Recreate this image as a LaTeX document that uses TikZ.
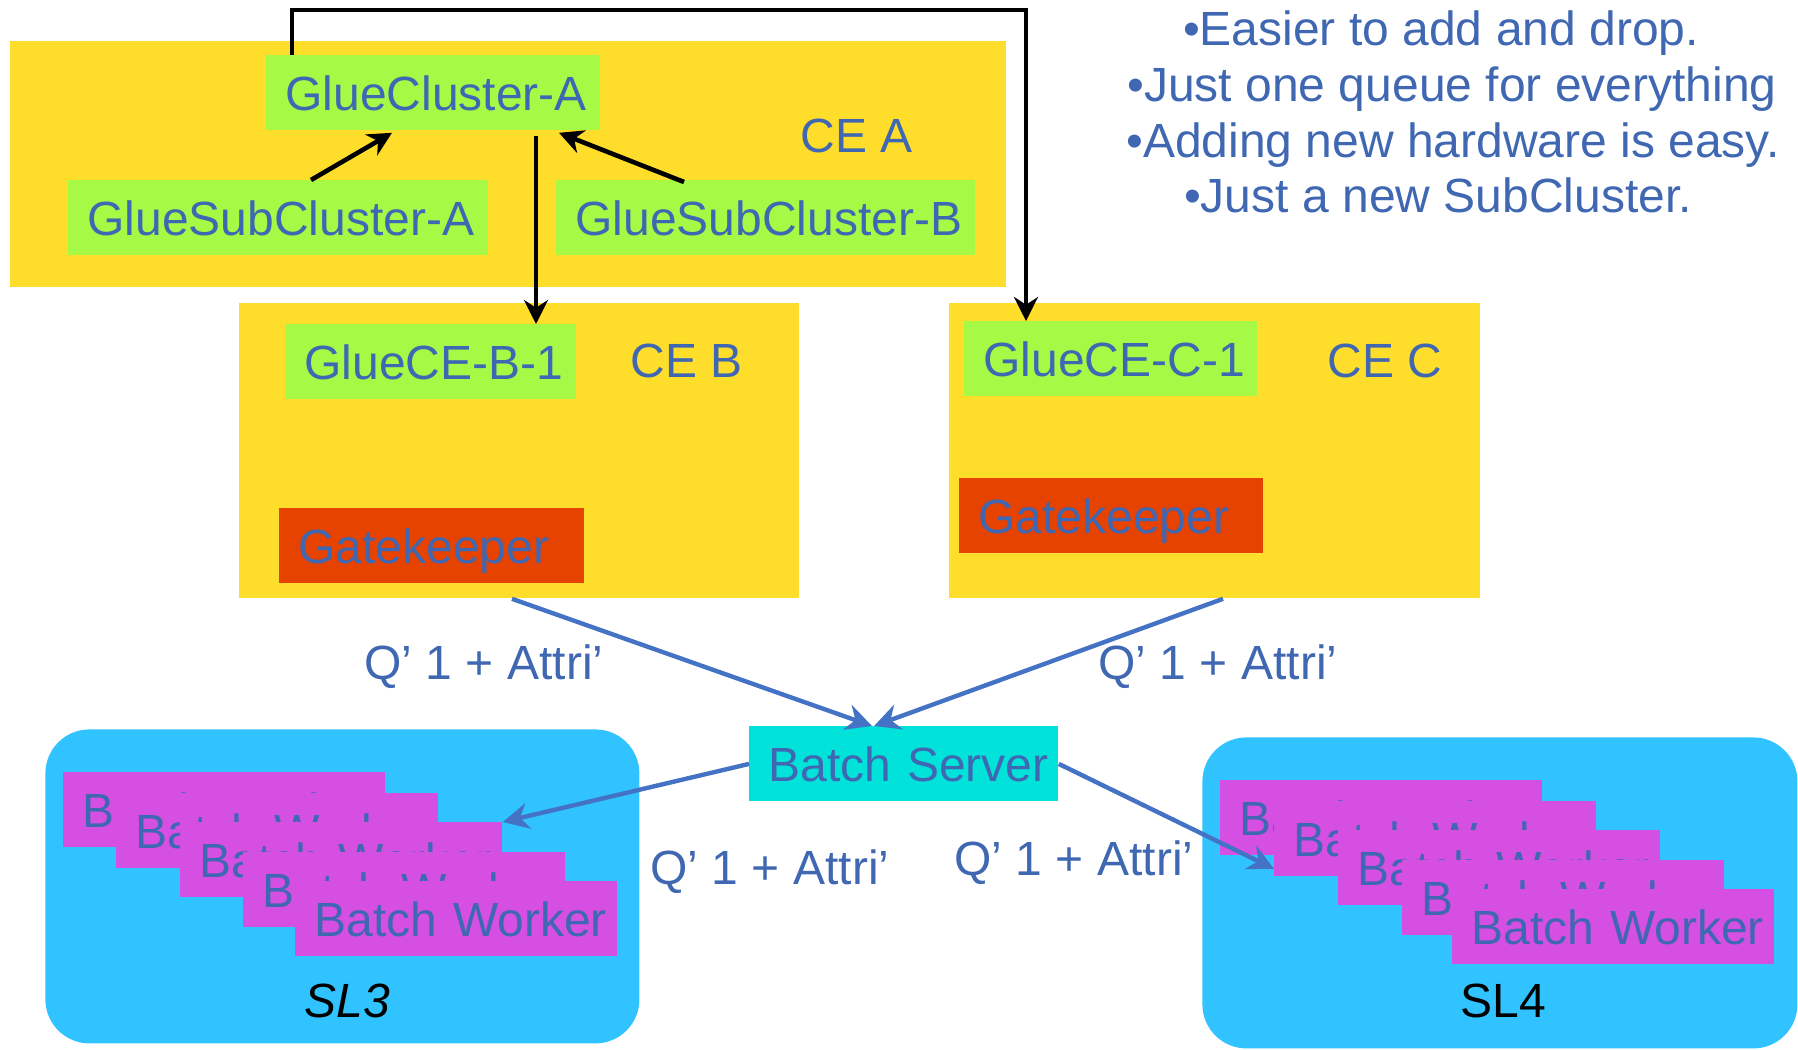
\documentclass[tikz,border=0pt]{standalone}
\usepackage{fontspec}
\setmainfont{Liberation Sans}
\usetikzlibrary{arrows.meta,calc}

\definecolor{ceyellow}{RGB}{255,221,43}
\definecolor{gluegreen}{RGB}{166,250,70}
\definecolor{gatered}{RGB}{230,67,0}
\definecolor{servercyan}{RGB}{0,226,218}
\definecolor{slblue}{RGB}{48,195,255}
\definecolor{workermag}{RGB}{214,79,227}
\definecolor{txtblue}{RGB}{63,103,178}
\definecolor{flowblue}{RGB}{68,114,196}

\newcommand{\diagfont}{\fontsize{24}{28.5}\selectfont}

\begin{document}
\begin{tikzpicture}[x=0.5pt,y=-0.5pt,
  txt/.style={font=\diagfont, text=txtblue, inner sep=0pt, text height=17.2pt, text depth=0pt},
  panel/.style={fill=ceyellow, anchor=north west, inner sep=0pt},
  pool/.style={fill=slblue, anchor=north west, inner sep=0pt, rounded corners=22pt},
  tag/.style={txt, fill=#1, anchor=north west, inner xsep=9.5pt, inner ysep=0pt,
              minimum height=37.5pt, align=left},
  worker/.style={tag=workermag, text width=142pt},
  karrow/.style={draw=black, line width=2.3pt, -{Stealth[length=12pt,width=12pt]}},
  barrow/.style={draw=flowblue, line width=2.2pt, -{Stealth[length=13pt,width=13pt]}},
  note/.style={font=\diagfont, text=txtblue, inner sep=0pt, anchor=base}
]
\useasboundingbox (0,0) rectangle (1798,1049);

% Computing elements
\node[panel, minimum width=498pt, minimum height=123pt] (ceA) at (10,41) {};
\node[panel, minimum width=280pt, minimum height=147.5pt] (ceB) at (239,303) {};
\node[panel, minimum width=265.5pt, minimum height=147.5pt] (ceC) at (949,303) {};

\node[txt] (ceAlbl) at (857,135) {CE A};
\node[txt] (ceBlbl) at (687,360) {CE B};
\node[txt] (ceClbl) at (1385,360) {CE C};

\node[tag=gluegreen, text width=148pt] (gc) at (266,55) {\mbox{GlueCluster-A}};
\node[tag=gluegreen, text width=191pt] (gsa) at (68,180) {\mbox{GlueSubCluster-A}};
\node[tag=gluegreen, text width=190.5pt] (gsb) at (556,180) {\mbox{GlueSubCluster-B}};
\node[tag=gluegreen, text width=126.5pt] (gceB) at (285,324) {\mbox{GlueCE-B-1}};
\node[tag=gatered, text width=133.5pt] (gkB) at (279,508) {\mbox{Gatekeeper}};
\node[tag=gluegreen, text width=127.5pt] (gceC) at (964,321) {\mbox{GlueCE-C-1}};
\node[tag=gatered, text width=133pt] (gkC) at (959,478) {\mbox{Gatekeeper}};

% Batch server
\node[tag=servercyan, text width=135.5pt] (bs) at (749,726) {\mbox{Batch Server}};

% Worker pools
\node[pool, minimum width=297pt, minimum height=157pt] (sl3) at (45,729) {};
\node[worker] (w1a) at (63,772) {\mbox{Batch Worker}};
\node[worker] (w2a) at (116,793) {\mbox{Batch Worker}};
\node[worker] (w3a) at (180,822) {\mbox{Batch Worker}};
\node[worker] (w4a) at (243,852) {\mbox{Batch Worker}};
\node[worker] (w5a) at (295,881) {\mbox{Batch Worker}};
\node[txt, text=black, font=\diagfont\itshape] (sl3lbl) at (347,1000) {SL3};

\node[pool, minimum width=297.5pt, minimum height=155.5pt] (sl4) at (1202,737) {};
\node[worker] (w1b) at (1220,780) {\mbox{Batch Worker}};
\node[worker] (w2b) at (1274,801) {\mbox{Batch Worker}};
\node[worker] (w3b) at (1338,830) {\mbox{Batch Worker}};
\node[worker] (w4b) at (1402,860) {\mbox{Batch Worker}};
\node[worker] (w5b) at (1452,889) {\mbox{Batch Worker}};
\node[txt, text=black] (sl4lbl) at (1503,1000) {SL4};

% Information flow
\draw[karrow] ($(gsa.north west)+(243,0)$) -- ($(gc.south west)+(126,2)$);
\draw[karrow] ($(gsb.north west)+(128,2)$) -- ($(gc.south west)+(293,2)$);
\draw[karrow] ($(gc.south west)+(270,5)$) -- ($(gceB.north west)+(251,0)$);
\draw[karrow] ($(gc.north west)+(26,0)$) |- ($(gceC.north west)+(62,-311)$)
  -- ($(gceC.north west)+(62,0)$);

% Job flow
\draw[barrow] ($(ceB.south west)+(273,0)$) -- ($(bs.north west)+(123,0)$);
\draw[barrow] ($(ceC.south west)+(274,0)$) -- ($(bs.north west)+(125,0)$);
\draw[barrow] (bs.west) -- (w3a.north east);
\draw[barrow] (bs.east) -- ($(w2b.south west)+(0,-8)$);

\node[txt] (q1) at (484,662) {Q’ 1 + Attri’};
\node[txt] (q2) at (1218,662) {Q’ 1 + Attri’};
\node[txt] (q3) at (770,867) {Q’ 1 + Attri’};
\node[txt] (q4) at (1074,858) {Q’ 1 + Attri’};

% Notes
\node[note] (n1) at (1441,45) {•Easier to add and drop.};
\node[note] (n2) at (1452,101) {•Just one queue for everything};
\node[note] (n3) at (1453,157) {•Adding new hardware is easy.};
\node[note] (n4) at (1438,212) {•Just a new SubCluster.};
\end{tikzpicture}
\end{document}
